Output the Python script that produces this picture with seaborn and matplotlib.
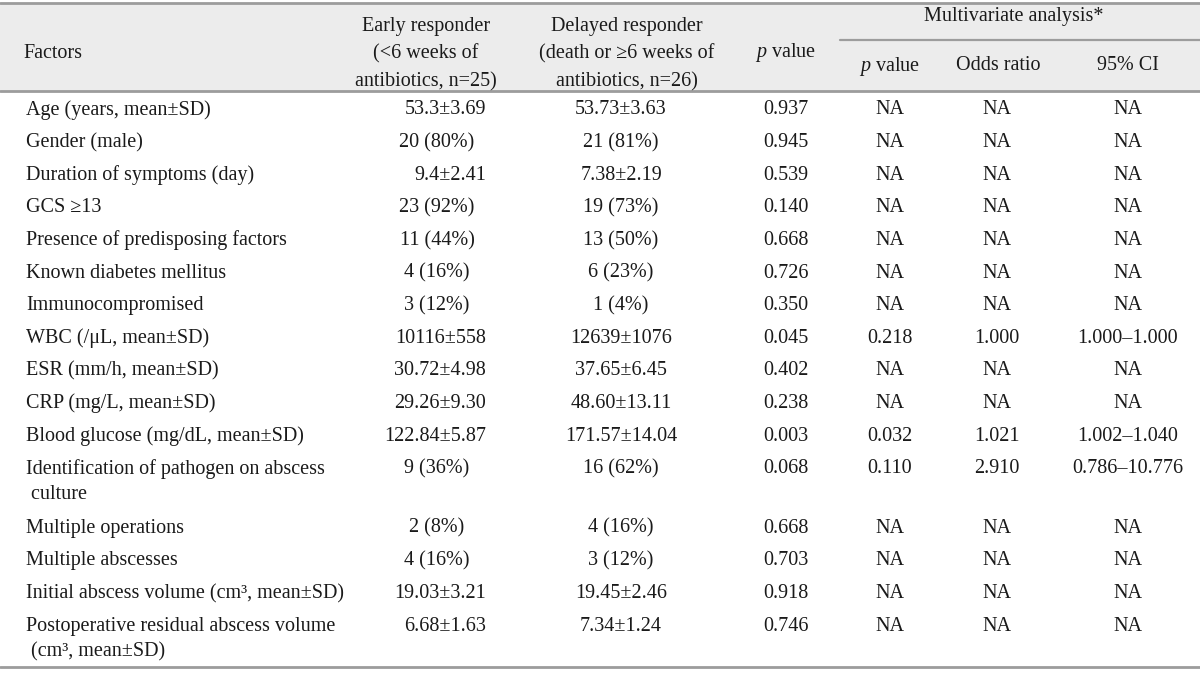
import matplotlib
matplotlib.use("Agg")
import matplotlib.pyplot as plt
import seaborn as sns

# ---------------- data ----------------
factors = [
    "Age (years, mean±SD)",
    "Gender (male)",
    "Duration of symptoms (day)",
    "GCS ≥13",
    "Presence of predisposing factors",
    "Known diabetes mellitus",
    "Immunocompromised",
    "WBC (/μL, mean±SD)",
    "ESR (mm/h, mean±SD)",
    "CRP (mg/L, mean±SD)",
    "Blood glucose (mg/dL, mean±SD)",
    "Identification of pathogen on abscess\n culture",
    "Multiple operations",
    "Multiple abscesses",
    "Initial abscess volume (cm³, mean±SD)",
    "Postoperative residual abscess volume\n (cm³, mean±SD)",
]
early = ["53.3±3.69", "20 (80%)", "9.4±2.41", "23 (92%)", "11 (44%)", "4 (16%)",
         "3 (12%)", "10116±558", "30.72±4.98", "29.26±9.30", "122.84±5.87",
         "9 (36%)", "2 (8%)", "4 (16%)", "19.03±3.21", "6.68±1.63"]
delayed = ["53.73±3.63", "21 (81%)", "7.38±2.19", "19 (73%)", "13 (50%)", "6 (23%)",
           "1 (4%)", "12639±1076", "37.65±6.45", "48.60±13.11", "171.57±14.04",
           "16 (62%)", "4 (16%)", "3 (12%)", "19.45±2.46", "7.34±1.24"]
p_value = ["0.937", "0.945", "0.539", "0.140", "0.668", "0.726", "0.350", "0.045",
           "0.402", "0.238", "0.003", "0.068", "0.668", "0.703", "0.918", "0.746"]
mv_p = ["NA"] * 7 + ["0.218", "NA", "NA", "0.032", "0.110", "NA", "NA", "NA", "NA"]
mv_or = ["NA"] * 7 + ["1.000", "NA", "NA", "1.021", "2.910", "NA", "NA", "NA", "NA"]
mv_ci = ["NA"] * 7 + ["1.000–1.000", "NA", "NA", "1.002–1.040", "0.786–10.776",
                      "NA", "NA", "NA", "NA"]

header_early = "Early responder\n(<6 weeks of\nantibiotics, n=25)"
header_delayed = "Delayed responder\n(death or ≥6 weeks of\nantibiotics, n=26)"
header_mv = "Multivariate analysis*"
header_p = r"$p$ value"

# ---------------- style ----------------
sns.set_theme(style="white")
plt.rcParams["font.family"] = ["Liberation Serif", "DejaVu Serif"]
plt.rcParams["mathtext.fontset"] = "custom"
plt.rcParams["mathtext.it"] = "Liberation Serif:italic"
plt.rcParams["mathtext.rm"] = "Liberation Serif"
FS = 14.5
LINE = "#9c9c9c"
HEAD_BG = "#ececec"
TXT = "#1a1a1a"

W, H = 1200, 674
fig = plt.figure(figsize=(12, 6.74), dpi=100)
ax = fig.add_axes([0, 0, 1, 1])
ax.set_xlim(0, W)
ax.set_ylim(H, 0)
ax.axis("off")
sns.despine(ax=ax, left=True, bottom=True)

# header band and rules
ax.axhspan(3, 91, color=HEAD_BG, zorder=0)
ax.axhline(3, color=LINE, lw=2)
ax.axhline(91, color=LINE, lw=2)
ax.axhline(667, color=LINE, lw=2)
ax.plot([840, W], [40, 40], color=LINE, lw=1.6)

def t(x, y, s, ha="center", ls=1.45, **kw):
    ax.text(x, y, s, ha=ha, va="center", fontsize=FS, color=TXT,
            linespacing=ls, **kw)

# header text
t(23, 54, "Factors", ha="left")
t(426, 54, header_early, ls=1.6, multialignment="center")
t(627, 54, header_delayed, ls=1.6, multialignment="center")
t(786, 53, header_p)
t(1014, 17, header_mv)
t(890, 66, header_p)
t(998, 66, "Odds ratio")
t(1128, 66, "95% CI")

# body rows
y0, step, extra = 110, 32.6, 27
y = y0
for i, lab in enumerate(factors):
    lines = lab.split("\n")
    t(26, y, lines[0], ha="left")
    for k, ln in enumerate(lines[1:], start=1):
        t(26, y + 26 * k, ln, ha="left")
    e = early[i]
    if "±" in e:
        t(486, y, e, ha="right")
    else:
        t(437, y, e)
    t(621, y, delayed[i])
    t(786, y, p_value[i])
    t(890, y, mv_p[i])
    t(997, y, mv_or[i])
    t(1128, y, mv_ci[i])
    y += step + extra * (len(lines) - 1)

fig.savefig("out.png", dpi=100, facecolor="white")
